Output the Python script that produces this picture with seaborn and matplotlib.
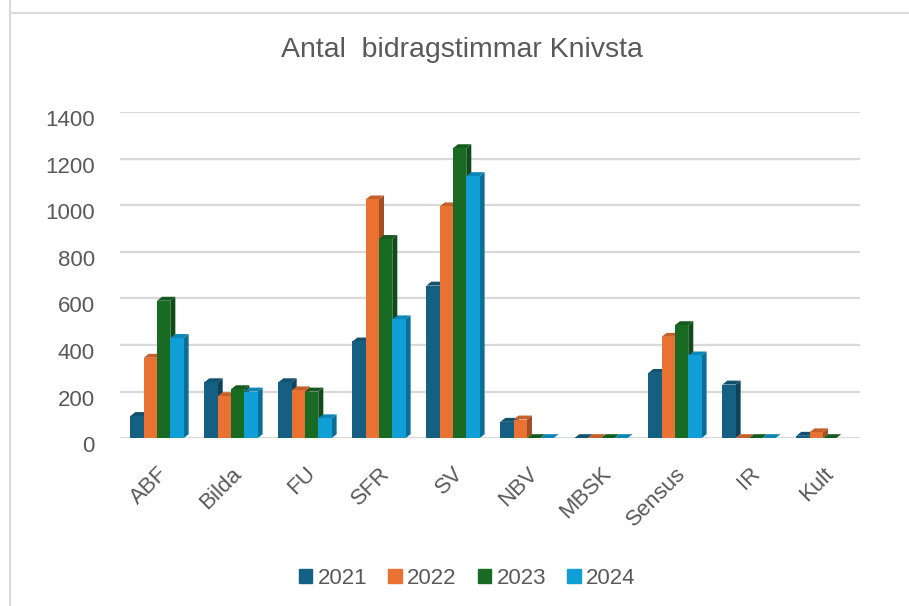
import numpy as np
import pandas as pd
import matplotlib
matplotlib.use("Agg")
import matplotlib.pyplot as plt
import matplotlib.colors as mcolors
from matplotlib.patches import Polygon
from matplotlib.lines import Line2D
from matplotlib.transforms import ScaledTranslation
import seaborn as sns

# data
categories = ["ABF", "Bilda", "FU", "SFR", "SV", "NBV", "MBSK", "Sensus", "IR", "Kult"]
years = ["2021", "2022", "2023", "2024"]
h2021 = [95, 240, 240, 415, 655, 70, 0, 280, 230, 10]
h2022 = [345, 180, 205, 1025, 995, 80, 0, 435, 0, 25]
h2023 = [590, 210, 200, 855, 1245, 0, 0, 485, 0, 0]
h2024 = [430, 200, 85, 510, 1125, 0, 0, 355, 0, np.nan]
colors = ["#156082", "#E97132", "#196B24", "#0F9ED5"]

df = pd.DataFrame({
    "org": categories * 4,
    "year": [y for y in years for _ in categories],
    "timmar": h2021 + h2022 + h2023 + h2024,
})

sns.set_style("white")
plt.rcParams["font.family"] = ["Liberation Sans", "DejaVu Sans"]
grey = "#595959"

fig = plt.figure(figsize=(9.09, 6.06), dpi=100)
ax = fig.add_axes([0.132, 0.277, 0.814, 0.538])

sns.barplot(data=df, x="org", y="timmar", hue="year", palette=colors,
            width=0.72, saturation=1, linewidth=0, legend=False, ax=ax)

ax.set_ylim(0, 1400)
ax.set_xlim(-0.5, 9.5)

# fake 3d depth on every bar (side and top faces), like the Excel chart
dx = 0.068
dy = 17
n = len(categories)
for i, p in enumerate(ax.patches[:]):
    k = i // n
    h = p.get_height()
    if np.isnan(h):
        continue
    x0 = p.get_x()
    w = p.get_width()
    c = np.array(mcolors.to_rgb(colors[k]))
    p.set_zorder(3 + k)
    side = Polygon([(x0 + w, 0), (x0 + w, h), (x0 + w + dx, h + dy), (x0 + w + dx, dy)],
                   closed=True, facecolor=c * 0.7, edgecolor="none", zorder=2.5 + k)
    top = Polygon([(x0, h), (x0 + w, h), (x0 + w + dx, h + dy), (x0 + dx, h + dy)],
                  closed=True, facecolor=c * 0.85, edgecolor="none", zorder=2.5 + k)
    ax.add_patch(side)
    ax.add_patch(top)

ax.set_yticks(range(0, 1401, 200))
ax.yaxis.grid(True, color="#d9d9d9", linewidth=1.6)
ax.set_axisbelow(True)
for s in ax.spines.values():
    s.set_visible(False)
ax.set_xlabel("")
ax.set_ylabel("")
ax.tick_params(axis="both", length=0, colors=grey, labelsize=16)
ax.tick_params(axis="y", pad=18)
ax.tick_params(axis="x", pad=18)
plt.setp(ax.get_xticklabels(), rotation=45, ha="right", rotation_mode="anchor")
# y labels sit a little lower than the back-wall gridlines in the original
shift = ScaledTranslation(0, -6 / 100, fig.dpi_scale_trans)
for lab in ax.get_yticklabels():
    lab.set_transform(lab.get_transform() + shift)

fig.text(0.508, 0.918, "Antal  bidragstimmar Knivsta", ha="center", va="center",
         fontsize=20.5, color=grey)

handles = [plt.Rectangle((0, 0), 1, 1, color=c) for c in colors]
fig.legend(handles, years, loc="center", bbox_to_anchor=(0.514, 0.046), ncol=4,
           frameon=False, fontsize=16, labelcolor=grey, handlelength=0.6,
           handleheight=0.6, handletextpad=0.25, columnspacing=0.95)

# chart frame
fig.add_artist(Line2D([10 / 909, 10 / 909], [0, 1], color="#d9d9d9", linewidth=1.5))
fig.add_artist(Line2D([10 / 909, 1], [1 - 12.5 / 606, 1 - 12.5 / 606], color="#d9d9d9", linewidth=1.5))

fig.savefig("out.png", dpi=100, facecolor="white")
